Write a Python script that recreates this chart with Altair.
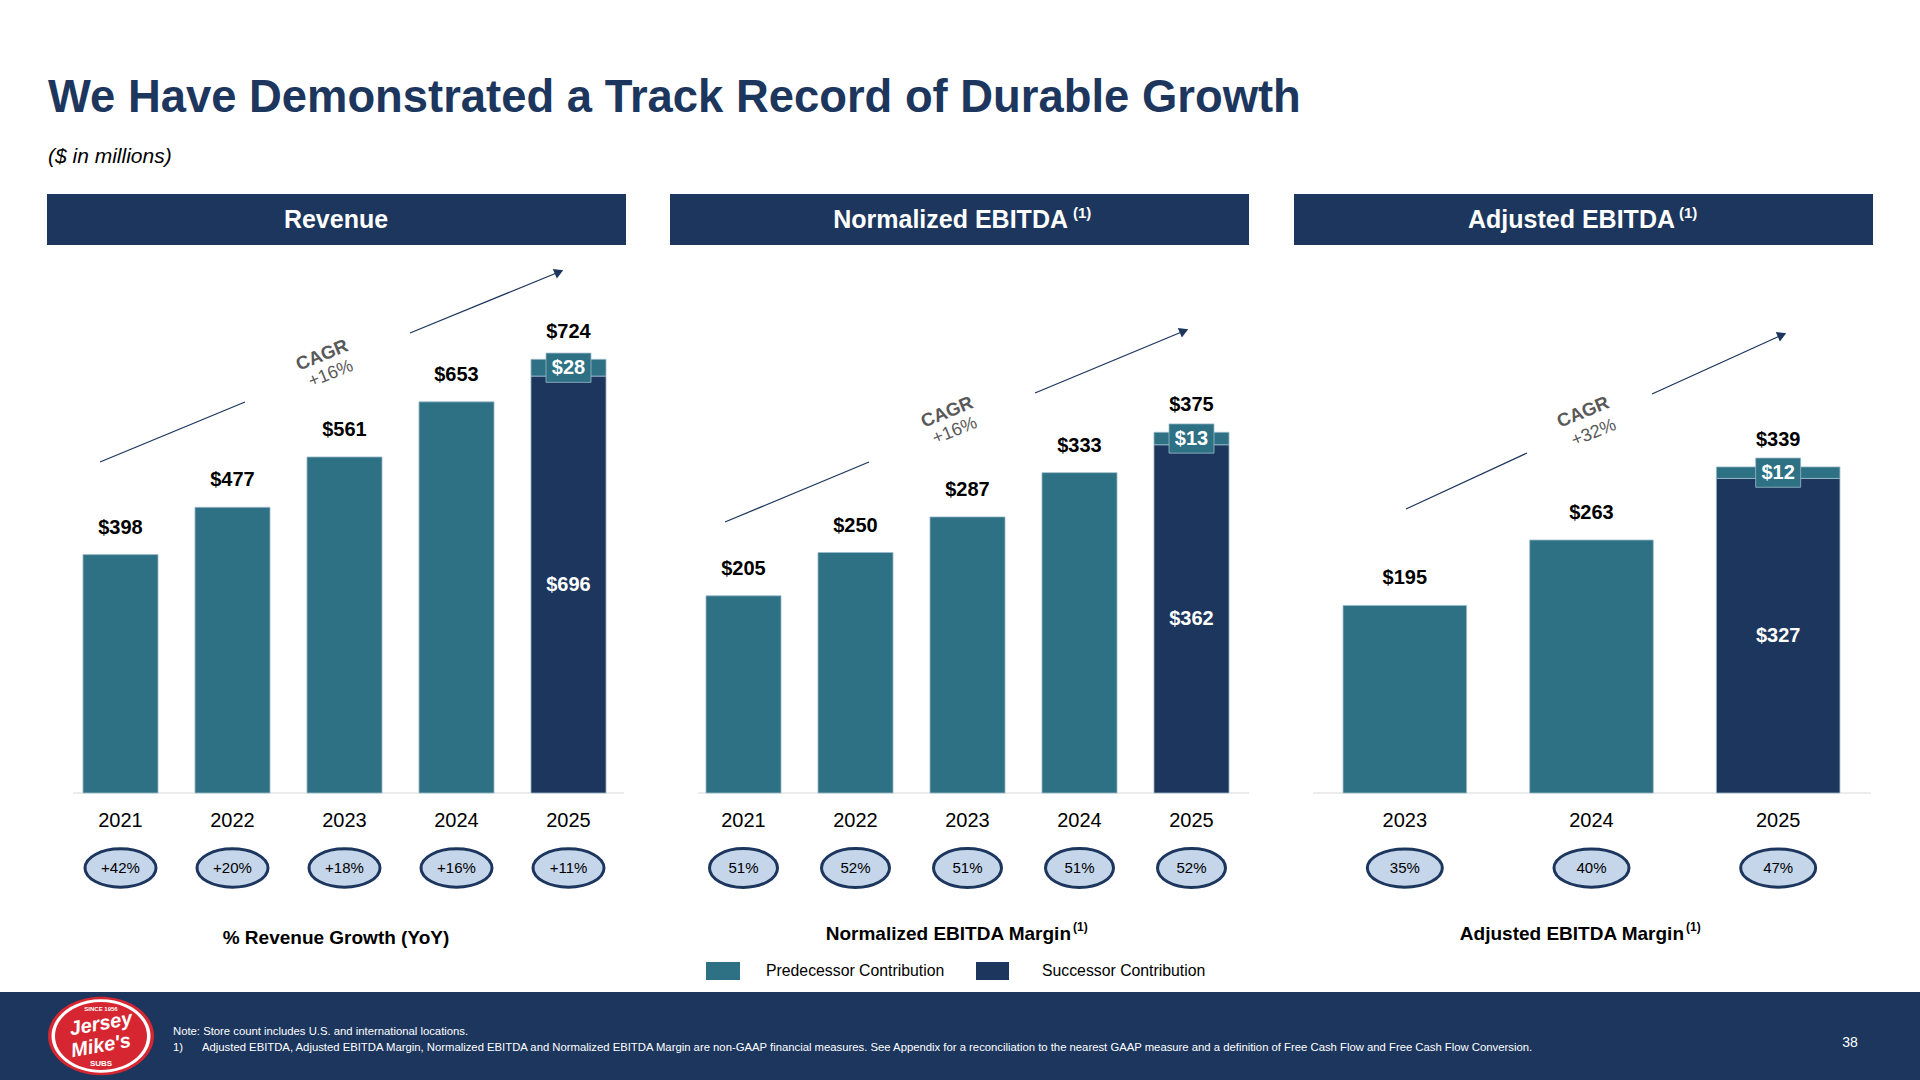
import altair as alt
import pandas as pd

# ---------------- values ($ in millions) ----------------
series_names = ["Predecessor Contribution", "Successor Contribution"]

rev_years = ["2021", "2022", "2023", "2024", "2025"]
rev_predecessor = [398, 477, 561, 653, 28]
rev_successor = [0, 0, 0, 0, 696]
rev_growth = ["+42%", "+20%", "+18%", "+16%", "+11%"]

norm_years = ["2021", "2022", "2023", "2024", "2025"]
norm_predecessor = [205, 250, 287, 333, 13]
norm_successor = [0, 0, 0, 0, 362]
norm_margin = ["51%", "52%", "51%", "51%", "52%"]

adj_years = ["2023", "2024", "2025"]
adj_predecessor = [195, 263, 12]
adj_successor = [0, 0, 327]
adj_margin = ["35%", "40%", "47%"]

cagr_labels = ["+16%", "+16%", "+32%"]

# ---------------- styling ----------------
FONT = "Liberation Sans"
TEAL = "#2E7185"
NAVY = "#1C365E"
LIGHT = "#C5D5EA"
GRAY_TXT = "#595959"
EDGE = "#9DBBC9"
BASE = 793          # pixel row of the bar baseline
one = pd.DataFrame({"k": [0]})


def ellipse_path(r):
    k = 0.5523
    return (f"M -1 0 C -1 {-r*k:.3f} {-k:.3f} {-r:.3f} 0 {-r:.3f} "
            f"C {k:.3f} {-r:.3f} 1 {-r*k:.3f} 1 0 "
            f"C 1 {r*k:.3f} {k:.3f} {r:.3f} 0 {r:.3f} "
            f"C {-k:.3f} {r:.3f} -1 {r*k:.3f} -1 0 Z")


RECT_PATH = "M -1 -0.65 L 1 -0.65 L 1 0.65 L -1 0.65 Z"


def txt(s, x, y, size, color="#000000", weight="normal", align="center",
        baseline="middle", style="normal", angle=0):
    kw = dict(text=s, fontSize=size, color=color, fontWeight=weight, align=align,
              baseline=baseline, font=FONT, fontStyle=style)
    if angle:
        kw["angle"] = angle
    return alt.Chart(one).mark_text(**kw).encode(x=alt.value(x), y=alt.value(y))


def box(x, x2, y, y2, color):
    return alt.Chart(one).mark_rect(color=color).encode(
        x=alt.value(x), x2=alt.value(x2), y=alt.value(y), y2=alt.value(y2))


def rule(x, y, x2, y2, color=NAVY, width=1.3):
    return alt.Chart(one).mark_rule(color=color, strokeWidth=width).encode(
        x=alt.value(x), y=alt.value(y), x2=alt.value(x2), y2=alt.value(y2))


def arrow_head(x, y, angle):
    return alt.Chart(one).mark_point(shape="triangle-right", filled=True, size=110,
                                     angle=angle, color=NAVY, opacity=1).encode(
        x=alt.value(x), y=alt.value(y))


def panel(left, years, pred, succ, pct, ymax, px_per_unit, pad, ell_w, ell_r):
    xs = alt.Scale(domain=years, range=[left + 17.5, left + 577.5],
                   paddingInner=pad, paddingOuter=pad / 2)
    ys = alt.Scale(domain=[0, ymax], range=[BASE, BASE - ymax * px_per_unit],
                   nice=False, zero=True)
    X = alt.X("year:N", scale=xs, axis=None)

    seg, tot, inner, top = [], [], [], []
    for yr, p, s in zip(years, pred, succ):
        if s:
            seg.append(dict(year=yr, series=series_names[1], lo=0, hi=s))
            inner.append(dict(year=yr, mid=s / 2, label=f"${s}"))
            top.append(dict(year=yr, mid=s + p / 2, label=f"${p}"))
        seg.append(dict(year=yr, series=series_names[0], lo=s, hi=s + p))
        tot.append(dict(year=yr, total=s + p, label=f"${s + p}"))
    seg, tot, inner, top = map(pd.DataFrame, (seg, tot, inner, top))
    ydf = pd.DataFrame({"year": years, "pct": pct})

    bars = alt.Chart(seg).mark_bar(stroke=EDGE, strokeWidth=0.8).encode(
        x=X, y=alt.Y("lo:Q", scale=ys, axis=None), y2="hi:Q",
        color=alt.Color("series:N", scale=alt.Scale(domain=series_names, range=[TEAL, NAVY]),
                        legend=None))
    totals = alt.Chart(tot).mark_text(dy=-27, fontSize=20, fontWeight="bold", font=FONT,
                                      color="#000000").encode(
        x=X, y=alt.Y("total:Q", scale=ys, axis=None), text="label:N")
    inner_lbl = alt.Chart(inner).mark_text(fontSize=20, fontWeight="bold", font=FONT,
                                           color="white").encode(
        x=X, y=alt.Y("mid:Q", scale=ys, axis=None), text="label:N")
    top_box = alt.Chart(top).mark_point(shape=RECT_PATH, size=45 ** 2, filled=True,
                                        fill=TEAL, stroke=EDGE, strokeWidth=0.8,
                                        opacity=1).encode(
        x=X, y=alt.Y("mid:Q", scale=ys, axis=None))
    top_lbl = alt.Chart(top).mark_text(fontSize=20, fontWeight="bold", font=FONT,
                                       color="white").encode(
        x=X, y=alt.Y("mid:Q", scale=ys, axis=None), text="label:N")
    year_lbl = alt.Chart(ydf).mark_text(fontSize=20, font=FONT, color="#000000").encode(
        x=X, y=alt.value(821), text="year:N")
    ell = alt.Chart(ydf).mark_point(shape=ellipse_path(ell_r), size=ell_w ** 2, filled=True,
                                    fill=LIGHT, stroke=NAVY, strokeWidth=3, opacity=1).encode(
        x=X, y=alt.value(868))
    ell_lbl = alt.Chart(ydf).mark_text(fontSize=15, font=FONT, color="#000000").encode(
        x=X, y=alt.value(868), text="pct:N")
    return [bars, top_box, totals, inner_lbl, top_lbl, year_lbl, ell, ell_lbl]


layers = []

# slide title
layers += [
    txt("We Have Demonstrated a Track Record of Durable Growth", 48, 112, 45.4,
        color=NAVY, weight="bold", align="left", baseline="alphabetic"),
    txt("($ in millions)", 48, 157, 21, style="italic", align="left"),
]

# section header bars
for x0, x1 in [(47, 626), (670, 1249), (1294, 1873)]:
    layers.append(box(x0, x1, 194, 245, NAVY))
layers += [
    txt("Revenue", 336, 220, 25, color="white", weight="bold"),
    txt("Normalized EBITDA", 1068, 220, 25, color="white", weight="bold", align="right"),
    txt("(1)", 1073, 213, 15, color="white", weight="bold", align="left"),
    txt("Adjusted EBITDA", 1675, 220, 25, color="white", weight="bold", align="right"),
    txt("(1)", 1679, 213, 15, color="white", weight="bold", align="left"),
]

# baselines
layers += [rule(73, BASE, 624, BASE, "#D9D9D9", 1),
           rule(698, BASE, 1249, BASE, "#D9D9D9", 1),
           rule(1313, BASE, 1871, BASE, "#D9D9D9", 1)]

# CAGR arrows and labels
arrows = [
    ((100, 462, 245, 402), (410, 333, 563, 270), (322, 355), (331, 374)),
    ((725, 522, 869, 462), (1035, 393, 1188, 329), (947, 412), (955, 431)),
    ((1406, 509, 1527, 453), (1652, 394, 1786, 333), (1583, 412), (1594, 433)),
]
for (seg1, seg2, pos_cagr, pos_rate), lbl in zip(arrows, cagr_labels):
    layers.append(rule(*seg1))
    layers.append(rule(seg2[0], seg2[1], seg2[2] - 4, seg2[3] + 2))
    layers.append(arrow_head(seg2[2] - 4, seg2[3] + 2, 337))
    layers.append(txt("CAGR", pos_cagr[0], pos_cagr[1], 18.5, color=GRAY_TXT,
                      weight="bold", angle=338))
    layers.append(txt(lbl, pos_rate[0], pos_rate[1], 18, color=GRAY_TXT, angle=338))

# the three bar panels
layers += panel(47, rev_years, rev_predecessor, rev_successor, rev_growth,
                1000, 0.599, 0.33, 71, 0.54)
layers += panel(670, norm_years, norm_predecessor, norm_successor, norm_margin,
                400, 0.962, 0.33, 68, 0.57)
layers += panel(1294, adj_years, adj_predecessor, adj_successor, adj_margin,
                400, 0.962, 0.338, 75, 0.51)

# row captions under the ovals
layers += [
    txt("% Revenue Growth (YoY)", 336, 938, 19, weight="bold"),
    txt("Normalized EBITDA Margin", 1071, 934, 19, weight="bold", align="right"),
    txt("(1)", 1073, 927, 12, weight="bold", align="left"),
    txt("Adjusted EBITDA Margin", 1684, 934, 19, weight="bold", align="right"),
    txt("(1)", 1686, 927, 12, weight="bold", align="left"),
]

# legend
layers += [
    box(706, 740, 962, 980, TEAL),
    txt(series_names[0], 766, 971, 15.8, align="left"),
    box(976, 1009, 962, 980, NAVY),
    txt(series_names[1], 1042, 971, 15.8, align="left"),
]

# footer band
layers += [
    box(0, 1920, 992, 1080, NAVY),
    txt("Note:  Store count includes U.S. and international locations.", 173, 1032, 11.3,
        color="white", align="left"),
    txt("1)", 173, 1048, 11.3, color="white", align="left"),
    txt("Adjusted EBITDA, Adjusted EBITDA Margin, Normalized EBITDA and Normalized EBITDA "
        "Margin are non-GAAP financial measures. See Appendix for a reconciliation to the "
        "nearest GAAP measure and a definition of Free Cash Flow and Free Cash Flow Conversion.",
        202, 1048, 11.3, color="white", align="left"),
    txt("38", 1850, 1043, 14, color="white"),
]

# logo badge
for w, col in [(106, "#D62631"), (99, "white"), (92, "#D62631")]:
    layers.append(alt.Chart(one).mark_point(shape=ellipse_path(0.74), size=w ** 2, filled=True,
                                            color=col, opacity=1).encode(
        x=alt.value(101), y=alt.value(1036)))
layers += [
    txt("SINCE 1956", 101, 1009, 6, color="white", weight="bold"),
    txt("Jersey", 101, 1024, 20, color="white", weight="bold", style="italic", angle=350),
    txt("Mike's", 101, 1046, 20, color="white", weight="bold", style="italic", angle=350),
    txt("SUBS", 101, 1064, 8, color="white", weight="bold"),
]

chart = alt.layer(*layers).resolve_scale(
    x="independent", y="independent"
).properties(
    width=1920, height=1080, padding=0,
    autosize=alt.AutoSizeParams(type="none"), background="white"
).configure_view(strokeWidth=0)

chart.save("out.html", embed_options={"renderer": "svg", "actions": False})
